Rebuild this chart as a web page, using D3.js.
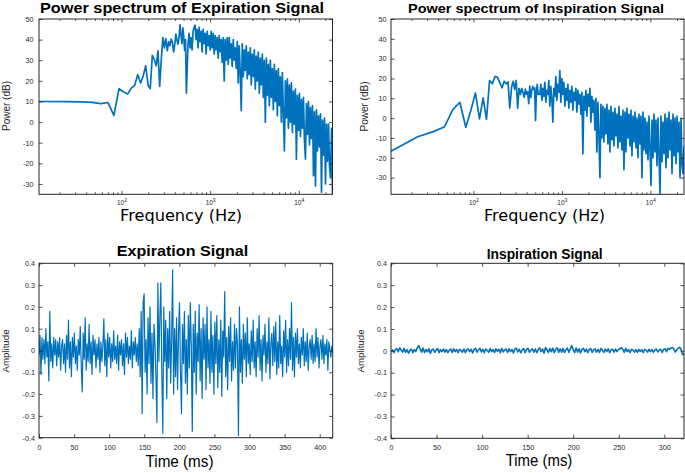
<!DOCTYPE html>
<html><head><meta charset="utf-8">
<script src="https://cdn.jsdelivr.net/npm/d3@7"></script>
<style>body{margin:0;background:#fff}svg{display:block}</style>
</head><body>
<svg id="c" width="685" height="473"></svg>
<script>
// ---------------- DATA ----------------
// frequency points of the spectra (Hz)
const specBinFreqHz = [11.72,23.44,35.16,46.88,58.59,70.31,82.03,93.75,105.5,117.2,128.9,140.6,152.3,164.1,175.8,187.5,199.2,210.9,222.7,234.4,246.1,257.8,269.5,281.3,293.0,304.7,316.4,328.1,339.8,351.6,363.3,375.0,386.7,398.4,410.2,421.9,433.6,445.3,457.0,468.8,480.5,492.2,503.9,515.6,527.3,539.1];
const specGridFreqHz = [563,578,594,609,625,642,659,676,694,712,731,750,770,791,812,833,855,878,901,925,949,974,1000,1026,1053,1081,1110,1139,1169,1200,1232,1264,1298,1332,1367,1403,1440,1478,1517,1557,1598,1641,1684,1728,1774,1821,1869,1918,1969,2021,2074,2129,2185,2243,2302,2363,2425,2489,2555,2622,2692,2763,2836,2910,2987,3066,3147,3230,3315,3403,3493,3585,3680,3777,3876,3979,4084,4192,4302,4416,4532,4652,4775,4901,5030,5163,5299,5439,5583,5730,5881,6037,6196,6360,6527,6700,6877,7058,7244,7436,7632,7833,8040,8252,8470,8694,8923,9159,9401,9649,9904,10165,10433,10709,10992,11282,11580,11885,12199,12521,12852,13191,13539,13897,14264,14640,15027,15423,15830,16248,16677,17118,17570,18034,18510,18998,19500,20015,20543,21085,21642,22213,22800,23402,24000];
const specFreqHz = specBinFreqHz.concat(specGridFreqHz);

// power spectrum of expiration signal (dB)
const expPowerDb = [
 10.0,9.9,9.8,9.6,9.0,9.5,3.3,16.2,14.6,13.6,16.5,17.8,23,19,22.5,27.3,18,16.2,32.4,30.3,27.3,34.6,17.3,31,41,36,40.5,34.6,39,37,40.3,38.7,34,37.6,42.7,39.7,37.8,41,47.2,42.3,38,45.7,41,34.6,40,14,
 38,43,36,41,35,44,46,47,40,45,
 36,46,39,44,34,45,38,43,33,44,
 37,42,35,44,36,43,33,42,35,41,
 31,42,34,40,29,41,20,40,30,41,
 28,41,31,38,27,40,30,36,26,39,
 19,37,24,5.5,38,22,35,25,37,21,
 34,23,36,18,33,22,35,16,32,20,
 34,14,31,18,33,12,30,0,31,13,
 28,8,30,12,26,6,28,10,25,3,
 26,8,22,0,24,4,-14,20,2,21,
 -3,18,0,19,-5,15,-1,16,-18,13,
 -4,14,-7,11,-3,12,-9,-18,9,-6,
 10,-11,7,-8,8,-26,5,-31,6,-14,
 3,-12,4,-34,1,-16,2,-30,-1,-19,
 -1,-22,-27,-3,-35];

// power spectrum of inspiration signal (dB)
const inspPowerDb = [
 -16.7,-9.4,-6.8,-4.5,4.3,8,-4.6,4,12.7,-0.4,10.2,-0.6,18.9,17.4,21.1,20.6,17.8,15.3,18.6,17.3,18.3,5.1,15.3,18.6,14.5,19,5,15,12,15,13,10.5,14.7,12,13.3,7.3,16.2,10.3,13.6,16,14.5,15.3,-1.2,13.6,17,12,
 12,17,9,15,11,18,8,14,12,19,
 6,16,10,-2,15,11,21,9,17,13,
 24,8,20,12,18,6,15,9,17,5,
 14,8,16,4,13,9,15,3,14,7,
 12,2,13,-18,11,4,14,1,12,6,
 15,-2,11,3,9,-6,10,-17,8,-8,
 -30,7,-10,6,-12,5,-8,7,-13,4,
 -17,6,-11,3,-14,5,-9,2,-15,6,
 -12,1,-16,4,-26,3,-17,5,-10,2,
 -14,4,-19,1,-12,3,-15,0,-20,2,
 -13,1,-30,3,-16,0,-18,-2,-21,1,
 -15,-34,-1,-20,2,-17,-1,-24,0,-19,
 -38,1,-22,-2,-18,2,-25,0,-20,3,
 -16,-1,-28,2,-19,0,-23,1,-17,-2,
 -30,0,-24,-28,-14];

// expiration time signal (amplitude), one sample every expSignalStepMs
const expSignalStepMs = 1.4;
const expSignal = [
 -.02,.07,-.11,.06,-.04,.05,-.06,.1,-.03,.04,-.14,.18,-.05,.03,-.08,.06,-.02,.05,-.07,.04,
 -.03,.06,-.09,.02,.05,-.06,.03,-.1,.07,-.04,.14,-.08,.04,-.12,.06,-.03,.08,-.06,.02,-.09,
 .05,-.02,.11,-.07,-.19,.08,-.04,.15,-.09,.03,-.05,.12,-.06,.04,-.11,.07,-.02,.05,-.08,.03,
 -.04,.06,-.1,.04,-.05,.02,.145,-.07,.05,-.12,.08,-.03,.06,-.08,.03,-.05,.09,-.04,.02,-.06,
 .07,-.09,.04,-.02,.05,-.07,.03,-.11,.08,-.03,.06,-.06,.02,-.04,.09,-.08,.04,-.02,.06,-.05,
 .03,-.07,.1,-.12,.18,-.29,.22,.26,-.1,.05,-.2,.15,-.06,.2,-.15,.08,-.22,.12,.04,-.12,
 -.33,.31,-.05,.15,.31,-.1,-.38,.2,-.05,.14,-.22,.1,-.08,.18,-.15,.05,.37,-.2,.1,-.12,
 .15,-.18,.08,.22,-.1,-.29,.12,-.06,.18,-.15,.05,-.2,.16,-.08,.22,.02,-.37,.12,-.1,.18,
 -.2,.08,-.05,.21,-.14,.1,-.22,.15,-.04,.12,-.18,.2,-.08,.05,-.15,.18,-.1,.07,-.2,.13,
 -.06,.16,-.17,.05,-.1,.14,-.21,.09,-.03,.27,-.12,.06,-.18,.11,-.05,.15,-.14,.04,-.09,.12,
 -.08,.1,.03,-.39,.2,-.1,.05,-.15,.12,-.04,.08,-.12,.15,-.06,.03,-.11,.09,-.05,.14,-.08,
 .04,-.12,.1,-.03,.16,-.09,.05,-.14,.07,-.02,.12,-.1,.04,-.06,.15,-.13,.03,.08,-.07,.11,
 -.05,.13,-.11,.04,-.08,.16,-.06,.02,-.12,.09,-.03,.14,-.1,.05,-.07,.1,-.04,.22,-.09,.06,
 -.12,.08,-.03,.1,-.06,.03,-.08,.06,-.02,.1,-.07,.04,-.05,.08,-.09,.02,.05,-.04,.07,-.06,
 .03,-.05,.1,-.03,.06,-.08,.02,.05,-.04,.07,-.06,.03,-.02,.05,-.09,.04,.01,-.03,.02,-.01];

// inspiration time signal (amplitude), one sample every inspSignalStepMs
const inspSignalStepMs = 1.6;
const inspSignal = [
 -.006,.004,-.008,.005,.01,-.004,.014,.003,-.006,.011,-.007,.005,-.011,.002,.008,-.009,.006,-.004,.012,.024,
 .009,-.006,.013,-.008,.006,-.005,.009,-.012,.004,.008,-.007,.003,.01,-.008,.005,-.004,.008,-.006,.006,-.009,
 .003,.008,-.007,.009,-.004,.006,-.009,.007,.002,-.006,.008,-.008,.005,.009,-.004,.007,-.01,.005,.011,-.006,
 .003,.012,-.005,.007,-.009,.008,.002,-.007,.01,-.004,.006,-.008,.009,-.003,.007,-.009,.011,-.005,.004,.008,
 -.007,.009,-.004,.006,-.01,.008,.012,-.005,.007,-.009,.004,.01,-.008,.006,.011,-.007,.003,.009,-.006,.008,
 -.009,.007,.013,-.004,.008,-.011,.015,.005,-.008,.01,-.004,.012,-.009,.007,.014,-.007,.009,-.006,.011,-.008,
 .005,.012,-.007,.009,.024,.004,-.008,.013,-.006,.009,-.01,.007,.011,-.004,.008,-.009,.006,.01,-.007,.004,
 .009,-.006,.007,-.008,.01,.003,-.007,.008,-.004,.009,-.009,.006,.007,-.006,.008,-.004,.006,.009,.015,.006,
 -.007,.011,-.004,.006,-.009,.007,.003,-.006,.005,-.007,.006,-.003,.005,-.008,.006,.003,-.006,.007,-.004,.006,
 -.007,.004,.008,-.005,.003,.007,-.008,.006,.009,-.004,.011,.006,.013,.015,.008,-.006,.004,.012,.016,.006,
 -.017,-.014];

// ticks and texts
const specDbTicks = [-30,-20,-10,0,10,20,30,40,50];
const freqMajorTicks = [100,1000,10000];
const expTimeTicks = [0,50,100,150,200,250,300,350,400];
const inspTimeTicks = [0,50,100,150,200,250,300];
const ampTicks = [-0.4,-0.3,-0.2,-0.1,0,0.1,0.2,0.3,0.4];
const titleExpSpec = "Power spectrum of Expiration Signal";
const titleInspSpec = "Power spectrum of Inspiration Signal";
const titleExpSig = "Expiration Signal";
const titleInspSig = "Inspiration Signal";
const freqLabel = "Frequency (Hz)";
const powerLabel = "Power (dB)";
const timeLabel = "Time (ms)";
const ampLabel = "Amplitude";

// ---------------- DRAWING ----------------
const svg = d3.select("#c");
const LINE = "#0072BD", AX = "#262626";
const SANS = "'Liberation Sans', Arial, Helvetica, sans-serif";

function minorLogTicks(dom) {
  const out = [];
  for (let p = 1; p <= 4; p++) for (let m = 2; m <= 9; m++) {
    const v = m * Math.pow(10, p);
    if (v > dom[0] && v < dom[1]) out.push(v);
  }
  return out;
}

function panel(o) {
  const g = svg.append("g");
  const x = o.x, y = o.y;
  const [xa, xb] = x.range(); const [yb, ya] = y.range();
  const id = "clip" + o.id;
  g.append("clipPath").attr("id", id).append("rect")
    .attr("x", xa).attr("y", ya).attr("width", xb - xa).attr("height", yb - ya);

  // data line
  const line = d3.line().x(d => x(d[0])).y(d => y(d[1]));
  g.append("path").datum(o.data).attr("clip-path", `url(#${id})`)
    .attr("fill", "none").attr("stroke", LINE).attr("stroke-width", o.lw || 1)
    .attr("stroke-linejoin", "round").attr("d", line);

  const style = sel => {
    sel.select(".domain").remove();
    sel.selectAll("line").attr("stroke", AX).attr("stroke-width", 0.8);
    sel.selectAll("text").attr("fill", AX).attr("font-family", SANS).attr("font-size", o.tickFs || 7.2);
  };
  // bottom axis with labels
  const bot = g.append("g").attr("transform", `translate(0,${yb})`)
    .call(d3.axisBottom(x).tickValues(o.xTicks).tickSize(-3.5).tickPadding(o.xPad).tickFormat(o.xFmt || (d => String(d))))
    .call(style);
  if (o.log) {
    bot.selectAll(".tick text").each(function(d) {
      const t = d3.select(this); t.text(null);
      t.append("tspan").text("10");
      t.append("tspan").attr("dy", "-3").attr("font-size", 5.2).text(Math.round(Math.log10(d)));
    }).attr("font-size", 6.4);
    g.append("g").attr("transform", `translate(0,${yb})`)
      .call(d3.axisBottom(x).tickValues(minorLogTicks(x.domain())).tickSize(-2).tickFormat(""))
      .call(style);
    g.append("g").attr("transform", `translate(0,${ya})`)
      .call(d3.axisTop(x).tickValues(minorLogTicks(x.domain())).tickSize(-2).tickFormat(""))
      .call(style);
  }
  // top axis (ticks only)
  g.append("g").attr("transform", `translate(0,${ya})`)
    .call(d3.axisTop(x).tickValues(o.xTicks).tickSize(-3.5).tickFormat(""))
    .call(style);
  // left axis with labels
  g.append("g").attr("transform", `translate(${xa},0)`)
    .call(d3.axisLeft(y).tickValues(o.yTicks).tickSize(-3.5).tickPadding(o.yPad).tickFormat(o.yFmt || (d => String(d))))
    .call(style);
  // right axis (ticks only)
  g.append("g").attr("transform", `translate(${xb},0)`)
    .call(d3.axisRight(y).tickValues(o.yTicks).tickSize(-3.5).tickFormat(""))
    .call(style);
  // box
  g.append("rect").attr("x", xa).attr("y", ya).attr("width", xb - xa).attr("height", yb - ya)
    .attr("fill", "none").attr("stroke", AX).attr("stroke-width", 1);

  // title
  g.append("text").attr("x", o.title.x).attr("y", o.title.y).attr("text-anchor", "middle")
    .attr("font-family", SANS).attr("font-weight", "bold").attr("font-size", o.title.fs)
    .attr("textLength", o.title.w).attr("lengthAdjust", "spacingAndGlyphs")
    .attr("fill", "#000").text(o.title.text);
  // x label
  g.append("text").attr("x", o.xl.x).attr("y", o.xl.y).attr("text-anchor", "middle")
    .attr("font-family", o.xl.font).attr("font-size", o.xl.fs)
    .attr("textLength", o.xl.w).attr("lengthAdjust", "spacingAndGlyphs")
    .attr("fill", "#000").text(o.xl.text);
  // y label
  g.append("text").attr("transform", `translate(${o.yl.x},${o.yl.y}) rotate(-90)`)
    .attr("text-anchor", "middle").attr("font-family", SANS).attr("font-size", o.yl.fs)
    .attr("fill", AX).text(o.yl.text);
}

const expSpecData = d3.zip(specFreqHz, expPowerDb);
const inspSpecData = d3.zip(specFreqHz, inspPowerDb);
const expSigData = expSignal.map((v, i) => [i * expSignalStepMs, v]);
const inspSigData = inspSignal.map((v, i) => [i * inspSignalStepMs, v]);
const ampFmt = d => d === 0 ? "0" : d.toFixed(1);
const FREQ_FONT = "'DejaVu Sans', Verdana, sans-serif";

panel({
  id: "tl", data: expSpecData, log: true, lw: 1.7,
  x: d3.scaleLog().domain([11.72, 24000]).range([39, 332.5]),
  y: d3.scaleLinear().domain([-35, 50]).range([194.3, 19]),
  xTicks: freqMajorTicks, yTicks: specDbTicks, xPad: 6.5, yPad: 5.5,
  title: {text: titleExpSpec, x: 182, y: 13, fs: 14.5, w: 284},
  xl: {text: freqLabel, x: 181, y: 220.5, fs: 16, w: 122, font: FREQ_FONT},
  yl: {text: powerLabel, x: 10, y: 106, fs: 10}
});
panel({
  id: "tr", data: inspSpecData, log: true, lw: 1.7,
  x: d3.scaleLog().domain([11.72, 24000]).range([391, 684]),
  y: d3.scaleLinear().domain([-38.4, 50]).range([194.3, 19]),
  xTicks: freqMajorTicks, yTicks: specDbTicks, xPad: 6.5, yPad: 4.5,
  title: {text: titleInspSpec, x: 536, y: 13, fs: 13.5, w: 256},
  xl: {text: freqLabel, x: 544.5, y: 220.5, fs: 16, w: 121, font: FREQ_FONT},
  yl: {text: powerLabel, x: 367.5, y: 106.5, fs: 10}
});
panel({
  id: "bl", data: expSigData, lw: 1.2,
  x: d3.scaleLinear().domain([0, 418.5]).range([39, 332.7]),
  y: d3.scaleLinear().domain([-0.4, 0.4]).range([437.7, 263.3]),
  xTicks: expTimeTicks, yTicks: ampTicks, xPad: 7, yPad: 4, yFmt: ampFmt,
  title: {text: titleExpSig, x: 182.5, y: 255.6, fs: 15, w: 131.5},
  xl: {text: timeLabel, x: 179.5, y: 467.3, fs: 16, w: 68, font: SANS},
  yl: {text: ampLabel, x: 8.5, y: 351, fs: 9.7}
});
panel({
  id: "br", data: inspSigData, lw: 1.6,
  x: d3.scaleLinear().domain([0, 321.6]).range([391, 684]),
  y: d3.scaleLinear().domain([-0.4, 0.4]).range([438.3, 263.3]),
  xTicks: inspTimeTicks, yTicks: ampTicks, xPad: 7, yPad: 4, yFmt: ampFmt,
  title: {text: titleInspSig, x: 544.7, y: 259, fs: 15, w: 116},
  xl: {text: timeLabel, x: 539, y: 465.7, fs: 16, w: 66.7, font: SANS},
  yl: {text: ampLabel, x: 363.5, y: 351, fs: 9.7}
});
</script>
</body></html>
